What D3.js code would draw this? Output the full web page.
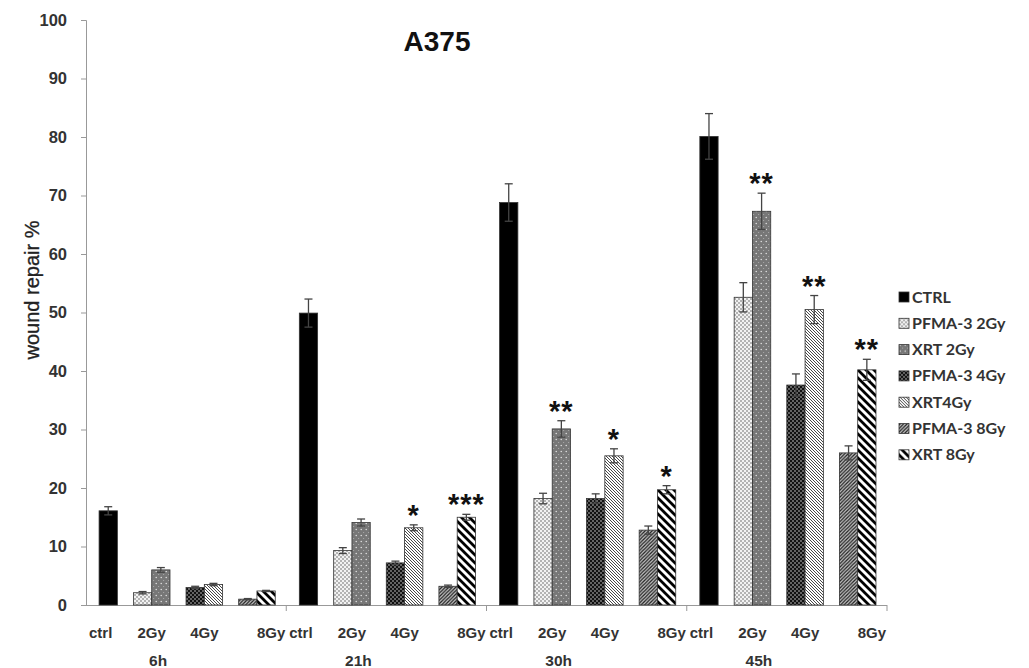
<!DOCTYPE html>
<meta charset="utf-8">
<head>
	<title>A375 wound repair</title>
</head>

<style>
body{
	margin: 0;
	background: #fff;
}
svg text{
	font-family: "Liberation Sans", Arial, sans-serif;
}
.legend text{
	font-family: Lato, "Liberation Sans", sans-serif;
}
</style>

<body>
<svg id="chart" width="1029" height="668"></svg>

<script src="https://cdnjs.cloudflare.com/ajax/libs/d3/7.8.5/d3.min.js"></script>
<script>

// data
var times = ["6h", "21h", "30h", "45h"];
var doses = ["ctrl", "2Gy", "4Gy", "8Gy"];
var yTicks = [0, 10, 20, 30, 40, 50, 60, 70, 80, 90, 100];

var seriesNames = ["CTRL", "PFMA-3 2Gy", "XRT 2Gy", "PFMA-3 4Gy", "XRT4Gy", "PFMA-3 8Gy", "XRT 8Gy"];
var seriesDose  = ["ctrl", "2Gy", "2Gy", "4Gy", "4Gy", "8Gy", "8Gy"];

var ctrl      = [16.1, 49.9, 68.8, 80.1];
var ctrlErr   = [0.7, 2.4, 3.2, 3.9];
var pfma2     = [2.1, 9.3, 18.2, 52.6];
var pfma2Err  = [0.2, 0.5, 0.9, 2.5];
var xrt2      = [6.0, 14.1, 30.1, 67.3];
var xrt2Err   = [0.4, 0.6, 1.4, 3.1];
var pfma4     = [3.0, 7.2, 18.2, 37.6];
var pfma4Err  = [0.2, 0.3, 0.8, 1.9];
var xrt4      = [3.5, 13.2, 25.5, 50.5];
var xrt4Err   = [0.2, 0.5, 1.2, 2.4];
var pfma8     = [1.0, 3.2, 12.8, 26.0];
var pfma8Err  = [0.1, 0.2, 0.7, 1.2];
var xrt8      = [2.4, 15.0, 19.7, 40.2];
var xrt8Err   = [0.1, 0.5, 0.7, 1.8];

var seriesValues = [ctrl, pfma2, xrt2, pfma4, xrt4, pfma8, xrt8];
var seriesErrors = [ctrlErr, pfma2Err, xrt2Err, pfma4Err, xrt4Err, pfma8Err, xrt8Err];

// significance marks
var starTimes  = ["21h", "21h", "30h", "30h", "30h", "45h", "45h", "45h"];
var starSeries = ["XRT4Gy", "XRT 8Gy", "XRT 2Gy", "XRT4Gy", "XRT 8Gy", "XRT 2Gy", "XRT4Gy", "XRT 8Gy"];
var starLabels = ["*", "***", "**", "*", "*", "**", "**", "**"];

// build rows
var rows = [];
seriesNames.forEach(function(name, s){
	times.forEach(function(t, i){
		rows.push({series: name, dose: seriesDose[s], time: t,
			value: seriesValues[s][i], err: seriesErrors[s][i], fill: "url(#p" + s + ")"});
	});
});

var svg = d3.select("#chart");

// patterns
var defs = svg.append("defs");

function pat(id, w, h){
	return defs.append("pattern").attr("id", id)
		.attr("patternUnits", "userSpaceOnUse")
		.attr("width", w).attr("height", h);
}

var p0 = pat("p0", 4, 4);
p0.append("rect").attr("width", 4).attr("height", 4).attr("fill", "#000");

var p1 = pat("p1", 4, 4);
p1.append("rect").attr("width", 4).attr("height", 4).attr("fill", "#f2f2f2");
p1.append("circle").attr("cx", 1).attr("cy", 1).attr("r", 0.75).attr("fill", "#555");
p1.append("circle").attr("cx", 3).attr("cy", 3).attr("r", 0.75).attr("fill", "#555");

var p2 = pat("p2", 5, 6);
p2.append("rect").attr("width", 5).attr("height", 6).attr("fill", "#777");
p2.append("circle").attr("cx", 1.2).attr("cy", 1.5).attr("r", 0.7).attr("fill", "#eee");
p2.append("circle").attr("cx", 3.7).attr("cy", 4.5).attr("r", 0.5).attr("fill", "#bbb");

var p3 = pat("p3", 4, 4);
p3.append("rect").attr("width", 4).attr("height", 4).attr("fill", "#111");
p3.append("circle").attr("cx", 1).attr("cy", 1).attr("r", 0.8).attr("fill", "#ccc");
p3.append("circle").attr("cx", 3).attr("cy", 3).attr("r", 0.8).attr("fill", "#ccc");

var p4 = pat("p4", 3, 3);
p4.append("rect").attr("width", 3).attr("height", 3).attr("fill", "#fff");
p4.append("path").attr("d", "M0,0L3,3M-1,2L1,4M2,-1L4,1")
	.attr("stroke", "#333").attr("stroke-width", 0.9);

var p5 = pat("p5", 3.5, 3.5);
p5.append("rect").attr("width", 3.5).attr("height", 3.5).attr("fill", "#ccc");
p5.append("path").attr("d", "M0,3.5L3.5,0M-1,1L1,-1M2.5,4.5L4.5,2.5")
	.attr("stroke", "#222").attr("stroke-width", 1.3);

var p6 = pat("p6", 8, 8);
p6.append("rect").attr("width", 8).attr("height", 8).attr("fill", "#fff");
p6.append("path").attr("d", "M0,0L8,8M-4,4L4,12M4,-4L12,4")
	.attr("stroke", "#000").attr("stroke-width", 2.8);

// scales
var x0 = d3.scaleBand().domain(times).range([86, 887]);
var gw = x0.bandwidth();
var x1 = d3.scaleBand().domain(doses).range([-0.026 * gw, 0.945 * gw]).paddingInner(0.305);
var x2 = d3.scaleBand().domain(["PFMA-3", "XRT"]).range([0, x1.bandwidth()]);
var y = d3.scaleLinear().domain([0, 100]).range([605, 20]);

function slot(name){
	return name.indexOf("PFMA") === 0 ? "PFMA-3" : "XRT";
}
function barX(d){
	return x0(d.time) + x1(d.dose) + x2(slot(d.series));
}

// y axis
var yAxis = svg.append("g")
	.attr("transform", "translate(86,0)")
	.call(d3.axisLeft(y).tickValues(yTicks).tickSize(5).tickPadding(14));
yAxis.select(".domain").attr("stroke", "#999");
yAxis.selectAll(".tick line").attr("stroke", "#999");
yAxis.selectAll(".tick text")
	.attr("font-size", 16.5).attr("font-weight", "bold").attr("fill", "#333")
	.attr("font-family", "Liberation Sans, Arial, sans-serif");

// x axis line with group ticks
var xg = svg.append("g");
xg.append("line")
	.attr("x1", 86).attr("x2", x0.range()[1])
	.attr("y1", y(0) + 0.5).attr("y2", y(0) + 0.5)
	.attr("stroke", "#999");
xg.selectAll(".gtick")
	.data(times)
	.enter()
	.append("line")
	.attr("x1", function(d){ return x0(d) + gw; })
	.attr("x2", function(d){ return x0(d) + gw; })
	.attr("y1", y(0)).attr("y2", y(0) + 6)
	.attr("stroke", "#999");

// dose labels
var labelData = [];
times.forEach(function(t){
	doses.forEach(function(d){ labelData.push({time: t, dose: d}); });
});
xg.selectAll(".dlab")
	.data(labelData)
	.enter()
	.append("text")
	.attr("x", function(d){
		if (d.dose === "ctrl") return x0(d.time) + 3;
		if (d.dose === "8Gy") return x0(d.time) + gw - 1;
		return x0(d.time) + x1(d.dose) + x1.bandwidth() / 2;
	})
	.attr("text-anchor", function(d){
		if (d.dose === "ctrl") return "start";
		if (d.dose === "8Gy") return "end";
		return "middle";
	})
	.attr("y", 638)
	.attr("font-size", 15).attr("font-weight", "bold").attr("fill", "#333")
	.text(function(d){ return d.dose; });

// time labels
xg.selectAll(".tlab")
	.data(times)
	.enter()
	.append("text")
	.attr("x", function(d){ return x0(d) + gw / 2 - 28; })
	.attr("y", 666)
	.attr("text-anchor", "middle")
	.attr("font-size", 15.5).attr("font-weight", "bold").attr("fill", "#333")
	.text(function(d){ return d; });

// bars
svg.append("g")
	.selectAll("rect")
	.data(rows)
	.enter()
	.append("rect")
	.attr("x", barX)
	.attr("y", function(d){ return y(d.value); })
	.attr("width", x2.bandwidth())
	.attr("height", function(d){ return y(0) - y(d.value); })
	.attr("fill", function(d){ return d.fill; })
	.attr("stroke", "#333")
	.attr("stroke-width", 0.8);

// error bars
var eb = svg.append("g").attr("stroke", "#444").attr("stroke-width", 1.3);
eb.selectAll(".v")
	.data(rows)
	.enter()
	.append("line")
	.attr("x1", function(d){ return barX(d) + x2.bandwidth() / 2; })
	.attr("x2", function(d){ return barX(d) + x2.bandwidth() / 2; })
	.attr("y1", function(d){ return y(d.value - d.err); })
	.attr("y2", function(d){ return y(d.value + d.err); });
eb.selectAll(".top")
	.data(rows)
	.enter()
	.append("line")
	.attr("x1", function(d){ return barX(d) + x2.bandwidth() / 2 - 4; })
	.attr("x2", function(d){ return barX(d) + x2.bandwidth() / 2 + 4; })
	.attr("y1", function(d){ return y(d.value + d.err); })
	.attr("y2", function(d){ return y(d.value + d.err); });
eb.selectAll(".bot")
	.data(rows)
	.enter()
	.append("line")
	.attr("x1", function(d){ return barX(d) + x2.bandwidth() / 2 - 4; })
	.attr("x2", function(d){ return barX(d) + x2.bandwidth() / 2 + 4; })
	.attr("y1", function(d){ return y(d.value - d.err); })
	.attr("y2", function(d){ return y(d.value - d.err); });

// stars
var starData = starLabels.map(function(l, i){
	return rows.filter(function(r){
		return r.time === starTimes[i] && r.series === starSeries[i];
	}).map(function(r){ return {row: r, label: l}; })[0];
});
svg.append("g")
	.selectAll("text")
	.data(starData)
	.enter()
	.append("text")
	.attr("x", function(d){ return barX(d.row) + x2.bandwidth() / 2; })
	.attr("y", function(d){ return y(d.row.value + d.row.err) + 0; })
	.attr("text-anchor", "middle")
	.attr("font-size", 29).attr("font-weight", "bold").attr("fill", "#111")
	.attr("letter-spacing", 1)
	.text(function(d){ return d.label; });

// title
svg.append("text")
	.attr("x", 437).attr("y", 51)
	.attr("text-anchor", "middle")
	.attr("font-size", 28).attr("font-weight", "bold").attr("fill", "#111")
	.text("A375");

// y label
svg.append("text")
	.attr("transform", "translate(39,290) rotate(-90)")
	.attr("text-anchor", "middle")
	.attr("font-size", 20).attr("fill", "#222")
	.attr("stroke", "#222").attr("stroke-width", 0.3)
	.text("wound repair %");

// legend
var legend = svg.append("g").attr("class", "legend")
	.selectAll("g")
	.data(seriesNames)
	.enter()
	.append("g")
	.attr("transform", function(d, i){ return "translate(899," + (297 + i * 26.3) + ")"; });
legend.append("rect")
	.attr("x", 0).attr("y", -5).attr("width", 10).attr("height", 10)
	.attr("fill", function(d, i){ return "url(#p" + i + ")"; })
	.attr("stroke", "#333").attr("stroke-width", 0.8);
legend.append("text")
	.attr("x", 13).attr("y", 5.5)
	.attr("font-size", 16).attr("font-weight", "bold").attr("fill", "#333")
	.text(function(d){ return d; });

</script>
</body>
</html>
